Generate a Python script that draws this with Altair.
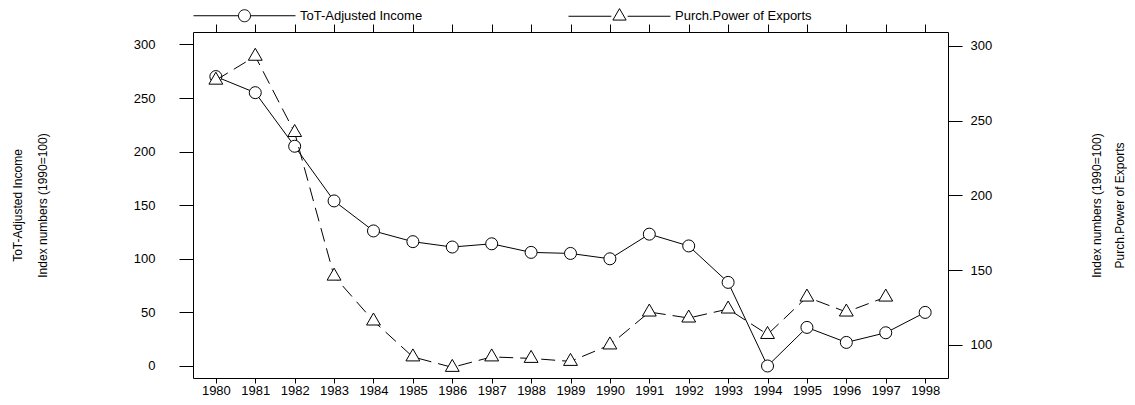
import altair as alt
import pandas as pd

FONT = "Liberation Sans"

years = list(range(1980, 1999))
tot_income = [270, 255, 205, 154, 126, 116, 111, 114, 106, 105, 100, 123, 112, 78, 0, 36, 22, 31, 50]
purch_years = list(range(1980, 1998))
purch_power = [277, 293, 242, 146, 116, 92, 85, 92, 91, 89, 100, 122, 118, 124, 107, 132, 122, 132]
series_names = ["ToT-Adjusted Income", "Purch.Power of Exports"]
left_ticks = [0, 50, 100, 150, 200, 250, 300]
right_ticks = [100, 150, 200, 250, 300]
left_title = ["ToT-Adjusted Income", "Index numbers (1990=100)"]
right_title = ["Index numbers (1990=100)", "Purch.Power of Exports"]

df_tot = pd.DataFrame({"year": years, "value": tot_income, "series": series_names[0]})
df_pp = pd.DataFrame({"year": purch_years, "value": purch_power, "series": series_names[1]})
df_leg = pd.DataFrame({"series": series_names})

TRI = "M0,-1.333L1.155,0.667L-1.155,0.667Z"
LEG_CIRC = ("M-1,0H-0.118M0.118,0H1M0.118,0A0.118,0.118,0,1,1,-0.118,0"
            "A0.118,0.118,0,1,1,0.118,0Z")
LEG_TRI = "M-1,0H-0.16M0.16,0H1M0,-0.15L0.13,0.075L-0.13,0.075Z"

xscale = alt.Scale(domain=[1979.42, 1998.58], nice=False, zero=False)
common_axis = dict(domainColor="black", tickColor="black", grid=False,
                   labelFont=FONT, labelFontSize=13, labelColor="black",
                   titleFont=FONT, titleFontSize=12, titleColor="black",
                   titleFontWeight="normal")

x_bottom = alt.X("year:Q", scale=xscale,
                 axis=alt.Axis(orient="bottom", values=years, format="d", title=None,
                               tickSize=5, labelPadding=1, labelFlush=False,
                               labelOverlap=False, **common_axis))
x_top = alt.X("year:Q", scale=xscale,
              axis=alt.Axis(orient="top", values=years, labels=False, title=None,
                            tickSize=8, **common_axis))

y_left = alt.Y("value:Q",
               scale=alt.Scale(domain=[-11.2, 311.6], nice=False, zero=False),
               axis=alt.Axis(orient="left", values=left_ticks, tickSize=14, labelPadding=24,
                             title=left_title, titleAngle=270, titleBaseline="middle",
                             titleAlign="center", titleX=-176, titleY=173,
                             titleLineHeight=25, **common_axis))
y_right = alt.Y("value:Q",
                scale=alt.Scale(domain=[77.9, 309.2], nice=False, zero=False),
                axis=alt.Axis(orient="right", values=right_ticks, tickSize=14, labelPadding=8,
                              title=right_title, titleAngle=270, titleBaseline="middle",
                              titleAlign="center", titleX=148, titleY=173,
                              titleLineHeight=23, **common_axis))

line_tot = alt.Chart(df_tot).mark_line(color="black", strokeWidth=1).encode(x=x_bottom, y=y_left)
pts_tot = alt.Chart(df_tot).mark_point(shape="circle", size=144, filled=True, fill="white",
                                        stroke="black", strokeWidth=1, opacity=1).encode(
    x=x_bottom, y=y_left)

line_pp = alt.Chart(df_pp).mark_line(color="black", strokeWidth=1, strokeDash=[14, 7]).encode(
    x=x_top, y=y_right)
pts_pp = alt.Chart(df_pp).mark_point(shape=TRI, size=144, filled=True, fill="white",
                                      stroke="black", strokeWidth=1, opacity=1).encode(
    x=x_top, y=y_right)

legend_layer = alt.Chart(df_leg).transform_filter("false").mark_point(
    color="black", filled=False).encode(
    shape=alt.Shape("series:N",
                    scale=alt.Scale(domain=series_names, range=[LEG_CIRC, LEG_TRI]),
                    legend=alt.Legend(orient="none", legendX=0, legendY=-68,
                                      direction="horizontal", title=None,
                                      symbolSize=10404, symbolStrokeWidth=1,
                                      symbolStrokeColor="black", symbolFillColor="white",
                                      symbolOpacity=1,
                                      labelFont=FONT, labelFontSize=13, labelColor="black",
                                      labelOffset=4, columnPadding=143, padding=0,
                                      labelLimit=0)))

chart = alt.layer(
    alt.layer(line_tot, pts_tot),
    alt.layer(line_pp, pts_pp),
    legend_layer,
).resolve_scale(x="independent", y="independent", shape="independent").properties(
    width=755, height=346,
    padding={"left": 185, "top": 24, "right": 179, "bottom": 19},
    autosize=alt.AutoSizeParams(type="none"),
    background="white",
).configure_view(stroke=None)

chart.save("out.html", embed_options={"renderer": "svg", "actions": False})
